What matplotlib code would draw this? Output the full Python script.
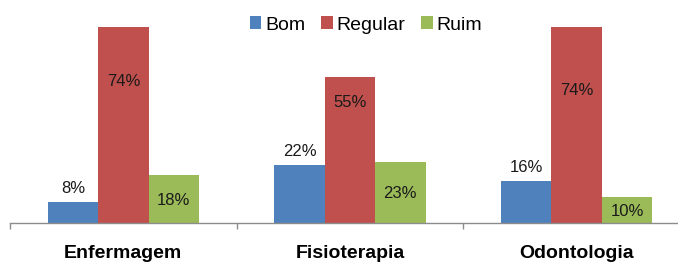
import matplotlib.pyplot as plt
import numpy as np

plt.rcParams['font.family'] = ['Liberation Sans', 'DejaVu Sans']

# dados
cursos = ['Enfermagem', 'Fisioterapia', 'Odontologia']
series = ['Bom', 'Regular', 'Ruim']
bom = [8, 22, 16]
regular = [74, 55, 74]
ruim = [18, 23, 10]

cores = ['#4F81BD', '#C0504D', '#9BBB59']

fig = plt.figure(figsize=(6.78, 2.62), dpi=100)
ax = fig.add_axes([10 / 678, 39 / 262, 680 / 678, 212 / 262])

x = np.arange(len(cursos))
w = 2 / 9

b1 = ax.bar(x - w, bom, w, color=cores[0], label=series[0])
b2 = ax.bar(x, regular, w, color=cores[1], label=series[1])
b3 = ax.bar(x + w, ruim, w, color=cores[2], label=series[2])

# rótulos: azul acima da barra
for xi, v in zip(x - w, bom):
    ax.annotate(f'{v}%', (xi, v), xytext=(0, 9.5), textcoords='offset points',
                ha='center', va='center', fontsize=12, color='#1a1a1a')

# vermelho dentro da barra, deslocado do topo
desloc_reg = [20.7, 9.6, 24]
for xi, v, d in zip(x, regular, desloc_reg):
    ax.text(xi, v - d, f'{v}%', ha='center', va='center', fontsize=12, color='#1a1a1a')

# verde no meio da barra
for xi, v in zip(x + w, ruim):
    ax.text(xi, v / 2 - 0.5, f'{v}%', ha='center', va='center', fontsize=12, color='#1a1a1a')

ax.set_xlim(-0.5, 2.5)
ax.set_ylim(0, 80)
ax.set_yticks([])
for s in ['left', 'right', 'top']:
    ax.spines[s].set_visible(False)
ax.spines['bottom'].set_color('#8c8c8c')
ax.spines['bottom'].set_linewidth(1)

ax.set_xticks(x)
ax.set_xticklabels(cursos, fontsize=14, fontweight='bold')
ax.tick_params(axis='x', which='major', length=0, pad=16)
ax.set_xticks([-0.5, 0.5, 1.5, 2.5], minor=True)
ax.tick_params(axis='x', which='minor', length=4, color='#8c8c8c', width=1)

fig.legend(loc='center', bbox_to_anchor=(366 / 678, 1 - 25 / 262), ncol=3,
           frameon=False, fontsize=14, handlelength=0.6, handleheight=0.6,
           handletextpad=0.2, columnspacing=0.8, borderpad=0)

fig.savefig('out.png', dpi=100)
